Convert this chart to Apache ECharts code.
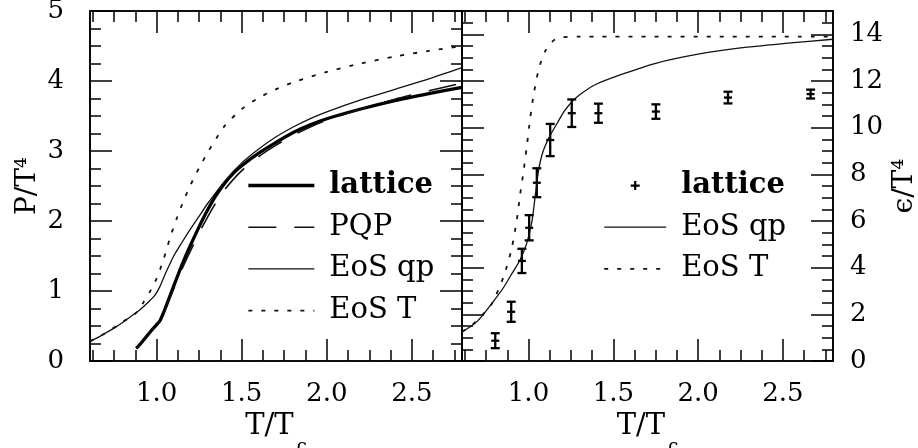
<!DOCTYPE html>
<html><head><meta charset="utf-8">
<script src="https://cdn.jsdelivr.net/npm/echarts@6/dist/echarts.min.js"></script>
<style>html,body{margin:0;padding:0;background:#fff}#c{width:918px;height:448px}</style>
</head><body><div id="c"></div>
<script>
// ---- tick values ----
const xMajorTicks = [1.0, 1.5, 2.0, 2.5];
const xMinorTicks = [0.625, 0.75, 0.875, 1.125, 1.25, 1.375, 1.625, 1.75, 1.875, 2.125, 2.25, 2.375, 2.625, 2.75];
const pMajorTicks = [0, 1, 2, 3, 4, 5];
const pMinorTicks = [0.25, 0.5, 0.75, 1.25, 1.5, 1.75, 2.25, 2.5, 2.75, 3.25, 3.5, 3.75, 4.25, 4.5, 4.75];
const eMajorTicks = [0, 2, 4, 6, 8, 10, 12, 14];
const eMinorTicks = [0.5, 1, 1.5, 2.5, 3, 3.5, 4.5, 5, 5.5, 6.5, 7, 7.5, 8.5, 9, 9.5, 10.5, 11, 11.5, 12.5, 13, 13.5, 14.5];

// ---- left panel: P/T^4 ----
const latticeP = [[0.88,0.18],[0.91,0.26],[0.94,0.35],[0.97,0.44],[1.0,0.52],[1.02,0.58],[1.05,0.75],[1.08,0.94],[1.1,1.07],[1.15,1.38],[1.2,1.66],[1.25,1.92],[1.3,2.16],[1.35,2.37],[1.4,2.54],[1.45,2.68],[1.5,2.79],[1.6,2.97],[1.7,3.12],[1.8,3.26],[1.9,3.37],[2.0,3.46],[2.2,3.60],[2.4,3.72],[2.6,3.82],[2.795,3.91]];
const pqpP = [[0.88,0.18],[0.94,0.34],[1.0,0.52],[1.03,0.62],[1.06,0.80],[1.1,1.03],[1.15,1.32],[1.2,1.58],[1.25,1.83],[1.3,2.06],[1.35,2.27],[1.4,2.45],[1.5,2.72],[1.6,2.92],[1.7,3.08],[1.8,3.22],[1.9,3.34],[2.0,3.44],[2.2,3.60],[2.4,3.74],[2.6,3.86],[2.795,3.97]];
const eosqpP = [[0.608,0.28],[0.65,0.33],[0.7,0.40],[0.75,0.47],[0.8,0.55],[0.85,0.64],[0.9,0.73],[0.95,0.84],[0.99,0.94],[1.02,1.07],[1.05,1.24],[1.1,1.50],[1.15,1.70],[1.2,1.89],[1.25,2.07],[1.3,2.25],[1.4,2.57],[1.5,2.83],[1.6,3.03],[1.7,3.20],[1.8,3.34],[1.9,3.46],[2.0,3.56],[2.2,3.73],[2.4,3.88],[2.6,4.03],[2.795,4.19]];
const eostP = [[0.608,0.28],[0.7,0.40],[0.8,0.56],[0.85,0.63],[0.88,0.69],[0.92,0.83],[0.96,0.99],[1.0,1.18],[1.04,1.45],[1.08,1.77],[1.12,2.05],[1.16,2.30],[1.2,2.52],[1.25,2.76],[1.3,2.98],[1.35,3.18],[1.4,3.36],[1.5,3.60],[1.6,3.76],[1.7,3.88],[1.8,3.98],[2.0,4.13],[2.2,4.25],[2.4,4.35],[2.6,4.43],[2.795,4.50]];

// ---- right panel: eps/T^4 ----
const latticeE = [[0.804,0.87,0.32],[0.898,2.11,0.43],[0.961,4.29,0.52],[1.004,5.71,0.54],[1.049,7.64,0.62],[1.128,9.47,0.69],[1.255,10.62,0.59],[1.412,10.62,0.41],[1.751,10.69,0.31],[2.176,11.29,0.25],[2.663,11.44,0.19]];
const eosqpE = [[0.608,1.26],[0.657,1.47],[0.7,1.72],[0.735,2.01],[0.8,2.62],[0.853,3.15],[0.9,3.72],[0.95,4.33],[0.99,5.05],[1.02,5.97],[1.04,7.1],[1.06,8.2],[1.08,8.85],[1.1,9.25],[1.13,9.7],[1.17,10.2],[1.21,10.7],[1.255,11.1],[1.3,11.4],[1.39,11.83],[1.54,12.26],[1.75,12.76],[2.0,13.15],[2.25,13.42],[2.53,13.62],[2.795,13.79]];
const eostE = [[0.608,1.26],[0.657,1.47],[0.735,2.03],[0.785,2.47],[0.853,3.61],[0.9,4.8],[0.93,6.0],[0.95,7.1],[0.97,8.1],[0.99,9.2],[1.01,10.4],[1.03,11.4],[1.06,12.5],[1.1,13.3],[1.15,13.75],[1.2,13.88],[1.3,13.9],[2.795,13.9]];

const FONT = 'DejaVu Serif';
const X_MIN = 0.608, X_MAX = 2.795;
const MAJ = 22, MIN = 11;
const tickLS = {color: '#000', width: 1.5};
const lineLS = {color: '#000', width: 1.6};

function xAx(grid, pos, ticks, len, withLabels) {
  const a = {
    type: 'value', gridIndex: grid, position: pos, min: X_MIN, max: X_MAX,
    axisLine: {show: true, onZero: false, lineStyle: lineLS},
    axisTick: {show: true, inside: true, length: len, customValues: ticks, lineStyle: tickLS},
    axisLabel: {show: false},
    splitLine: {show: false}, minorTick: {show: false}, axisPointer: {show: false}
  };
  if (withLabels) {
    a.axisLabel = {show: true, customValues: xMajorTicks, margin: 20, color: '#000',
      fontFamily: FONT, fontSize: 26, formatter: v => v.toFixed(1)};
    a.name = '{m|T/T}{s|c}';
    a.nameLocation = 'middle';
    a.nameGap = 46;
    a.nameTextStyle = {color: '#000', fontFamily: FONT, fontSize: 29,
      rich: {m: {fontFamily: FONT, fontSize: 29, lineHeight: 29, verticalAlign: 'top', color: '#000'},
             s: {fontFamily: FONT, fontSize: 18, lineHeight: 18, verticalAlign: 'top', padding: [26, 0, 0, 3], color: '#000'}}};
  }
  return a;
}
function yAx(grid, pos, max, ticks, len, labelVals, margin, name, nameGap) {
  const a = {
    type: 'value', gridIndex: grid, position: pos, min: 0, max: max,
    axisLine: {show: true, onZero: false, lineStyle: lineLS},
    axisTick: {show: true, inside: true, length: len, customValues: ticks, lineStyle: tickLS},
    axisLabel: {show: false},
    splitLine: {show: false}, minorTick: {show: false}, axisPointer: {show: false}
  };
  if (labelVals) {
    a.axisLabel = {show: true, customValues: labelVals, margin: margin, color: '#000',
      fontFamily: FONT, fontSize: 26};
    a.name = name;
    a.nameLocation = 'middle';
    a.nameRotate = 90;
    a.nameGap = nameGap;
    a.nameTextStyle = {color: '#000', fontFamily: FONT, fontSize: 28};
  }
  return a;
}

const xAxes = [
  xAx(0, 'bottom', xMajorTicks, MAJ, true),
  xAx(0, 'bottom', xMinorTicks, MIN, false),
  xAx(0, 'top', xMajorTicks, MAJ, false),
  xAx(0, 'top', xMinorTicks, MIN, false),
  xAx(1, 'bottom', xMajorTicks, MAJ, true),
  xAx(1, 'bottom', xMinorTicks, MIN, false),
  xAx(1, 'top', xMajorTicks, MAJ, false),
  xAx(1, 'top', xMinorTicks, MIN, false)
];
const yAxes = [
  yAx(0, 'left', 5, pMajorTicks, MAJ, pMajorTicks, 26, 'P/T⁴', 48),
  yAx(0, 'left', 5, pMinorTicks, MIN),
  yAx(0, 'right', 5, pMajorTicks, MAJ),
  yAx(0, 'right', 5, pMinorTicks, MIN),
  yAx(1, 'left', 15, eMajorTicks, MAJ),
  yAx(1, 'left', 15, eMinorTicks, MIN),
  yAx(1, 'right', 15, eMajorTicks, MAJ, eMajorTicks, 17, 'ϵ/T⁴', 58),
  yAx(1, 'right', 15, eMinorTicks, MIN)
];

function lineSeries(name, data, g, width, type, color) {
  return {
    type: 'line', name: name, data: data, xAxisIndex: g * 4, yAxisIndex: g * 4,
    symbol: 'none', smooth: 0.25, silent: true, animation: false,
    lineStyle: {color: color || '#000', width: width, type: type || 'solid'},
    itemStyle: {color: color || '#000'}
  };
}

const PLUS = 'path://M3,0H5V3H8V5H5V8H3V5H0V3H3Z';

const series = [
  lineSeries('lattice', latticeP, 0, 3.3, 'solid'),
  lineSeries('PQP', pqpP, 0, 1.6, [28, 18], '#111'),
  lineSeries('EoS qp', eosqpP, 0, 1.3, 'solid', '#111'),
  lineSeries('EoS T', eostP, 0, 1.8, [4, 9], '#111'),
  {
    type: 'custom', name: 'lattice', data: latticeE, xAxisIndex: 4, yAxisIndex: 4,
    encode: {x: 0, y: 1}, silent: true, animation: false,
    itemStyle: {color: '#000'},
    renderItem: function (params, api) {
      const x = api.value(0), y = api.value(1), e = api.value(2);
      const c = api.coord([x, y]);
      const lo = api.coord([x, y - e]);
      const hi = api.coord([x, y + e]);
      const hw = 4.5;
      const st = {stroke: '#000', lineWidth: 2.3, fill: null};
      return {type: 'group', children: [
        {type: 'line', shape: {x1: c[0], y1: lo[1], x2: c[0], y2: hi[1]}, style: st},
        {type: 'line', shape: {x1: c[0] - hw, y1: lo[1], x2: c[0] + hw, y2: lo[1]}, style: st},
        {type: 'line', shape: {x1: c[0] - hw, y1: hi[1], x2: c[0] + hw, y2: hi[1]}, style: st},
        {type: 'line', shape: {x1: c[0] - 4, y1: c[1], x2: c[0] + 4, y2: c[1]}, style: st}
      ]};
    }
  },
  lineSeries('EoS qp', eosqpE, 1, 1.3, 'solid', '#111'),
  lineSeries('EoS T', eostE, 1, 1.8, [4, 9], '#111')
];

const legendText = {fontFamily: FONT, fontSize: 29, color: '#000', lineHeight: 30, padding: [0, 0, 0, 10]};
const hideSym = {opacity: 0};
const option = {
  backgroundColor: '#fff',
  animation: false,
  grid: [
    {left: 90, top: 11, width: 372, height: 350, containLabel: false, outerBoundsMode: 'none'},
    {left: 462, top: 11, width: 371, height: 350, containLabel: false, outerBoundsMode: 'none'}
  ],
  xAxis: xAxes,
  yAxis: yAxes,
  legend: [
    {left: 246.7, top: 170.5, orient: 'vertical', itemWidth: 66, itemHeight: 9, itemGap: 11.7,
     padding: 0, selectedMode: false, symbolKeepAspect: true, textStyle: legendText,
     data: [
       {name: 'lattice', textStyle: {fontWeight: 'bold'}, lineStyle: {width: 3.3}, itemStyle: hideSym},
       {name: 'PQP', lineStyle: {width: 1.6}, itemStyle: hideSym},
       {name: 'EoS qp', lineStyle: {width: 1.3}, itemStyle: hideSym},
       {name: 'EoS T', lineStyle: {width: 1.8}, itemStyle: hideSym}
     ]},
    {left: 603.3, top: 170.5, orient: 'vertical', itemWidth: 62, itemHeight: 9, itemGap: 11.7,
     padding: 0, selectedMode: false, symbolKeepAspect: true, textStyle: legendText,
     data: [
       {name: 'lattice', icon: PLUS, textStyle: {fontWeight: 'bold'}, itemStyle: {color: '#000', borderWidth: 0, opacity: 1}},
       {name: 'EoS qp', lineStyle: {width: 1.3}, itemStyle: hideSym},
       {name: 'EoS T', lineStyle: {width: 1.8}, itemStyle: hideSym}
     ]}
  ],
  series: series
};
const chart = echarts.init(document.getElementById('c'), null, {renderer: 'canvas'});
chart.setOption(option);
</script>
</body></html>
